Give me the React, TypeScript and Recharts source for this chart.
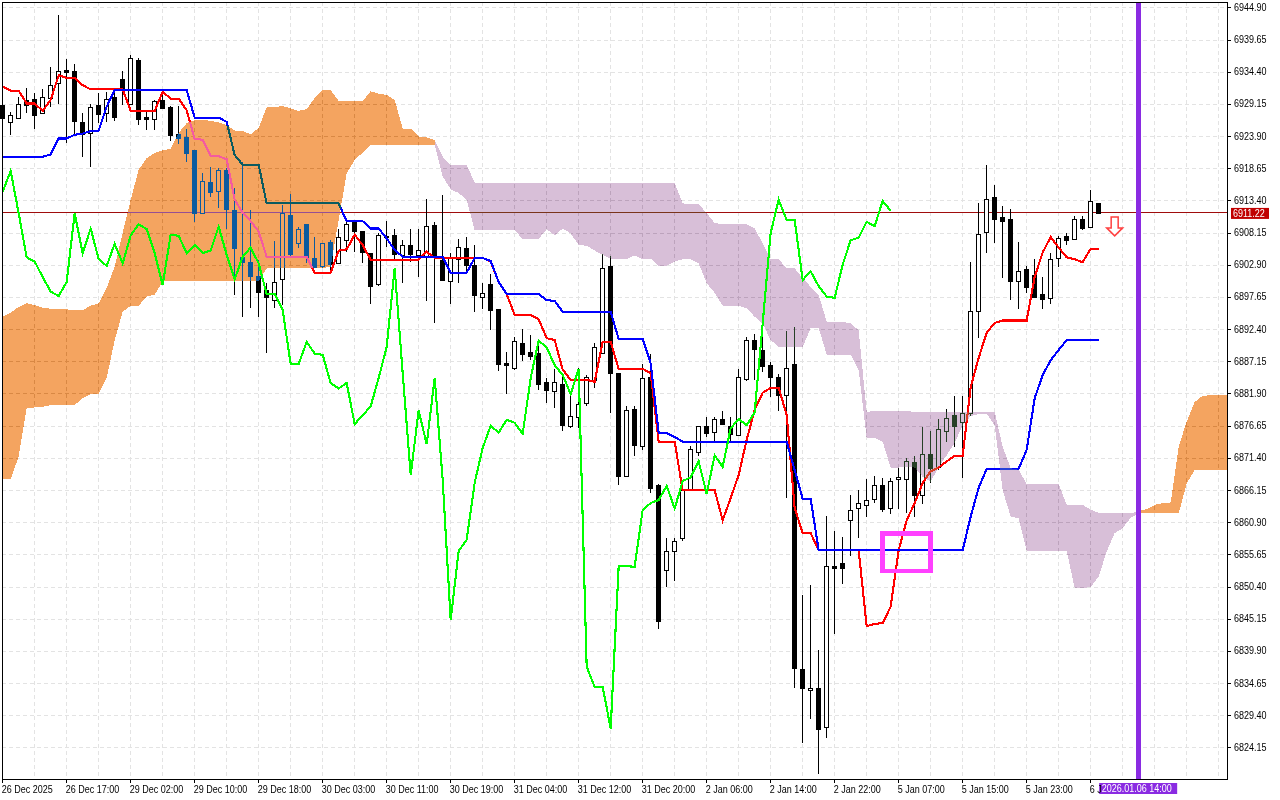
import React from 'react';
import {
  ComposedChart, Bar, Line, Area, XAxis, YAxis, CartesianGrid, ReferenceLine, ReferenceArea, ReferenceDot,
} from 'recharts';

const priceTicks = [
  6944.90, 6939.65, 6934.40, 6929.15, 6923.90, 6918.65, 6913.40, 6908.15, 6902.90, 6897.65, 6892.40, 6887.15,
  6881.90, 6876.65, 6871.40, 6866.15, 6860.90, 6855.65, 6850.40, 6845.15, 6839.90, 6834.65, 6829.40, 6824.15,
];

// one label every 8 bars, the last one runs under the cursor label
const timeLabels = [
  '26 Dec 2025', '26 Dec 17:00', '29 Dec 02:00', '29 Dec 10:00', '29 Dec 18:00', '30 Dec 03:00',
  '30 Dec 11:00', '30 Dec 19:00', '31 Dec 04:00', '31 Dec 12:00', '31 Dec 20:00', '2 Jan 06:00',
  '2 Jan 14:00', '2 Jan 22:00', '5 Jan 07:00', '5 Jan 15:00', '5 Jan 23:00', '6 J',
];

const opens = [
  6929.1, 6926.3, 6926.9, 6929.9, 6930.0, 6927.8, 6930.2, 6932.6, 6934.8, 6934.6,
  6926.3, 6924.5, 6929.1, 6927.7, 6930.3, 6933.3, 6929.3, 6936.4, 6927.1, 6926.8,
  6929.9, 6928.8, 6924.3, 6923.8, 6921.7, 6911.5, 6916.5, 6915.1, 6918.5, 6911.9,
  6904.3, 6903.4, 6901.2, 6898.9, 6897.3, 6900.6, 6911.1, 6906.5, 6909.6, 6904.1,
  6902.8, 6906.7, 6903.3, 6907.1, 6910.1, 6908.5, 6904.9, 6899.9, 6907.7, 6907.9,
  6904.6, 6906.2, 6904.6, 6904.3, 6909.5, 6903.8, 6900.3, 6903.9, 6905.7, 6903.0,
  6897.7, 6899.9, 6895.8, 6887.0, 6886.1, 6890.2, 6888.8, 6888.6, 6883.9, 6882.4,
  6883.5, 6876.7, 6878.1, 6880.4, 6884.2, 6888.6, 6902.8, 6885.3, 6868.5, 6879.5,
  6873.4, 6884.7, 6867.0, 6853.2, 6856.3, 6858.4, 6866.2, 6872.4, 6876.7, 6875.7,
  6877.8, 6876.7, 6875.2, 6884.3, 6890.7, 6889.1, 6886.6, 6884.7, 6881.7, 6886.8,
  6837.0, 6833.6, 6833.9, 6827.6, 6853.8, 6854.3, 6861.3, 6863.3, 6863.8, 6864.8,
  6867.0, 6863.3, 6868.0, 6868.0, 6870.8, 6865.4, 6872.1, 6870.0, 6875.9, 6878.5,
  6877.3, 6878.8, 6895.4, 6908.3, 6914.0, 6910.8, 6910.5, 6900.3, 6902.3, 6901.3,
  6898.2, 6897.6, 6904.1, 6907.7, 6907.2, 6910.5, 6909.2, 6913.1,
];
const closes = [
  6926.9, 6927.4, 6929.3, 6929.1, 6927.4, 6930.3, 6932.3, 6934.6, 6934.5, 6926.5,
  6924.4, 6928.8, 6927.6, 6930.0, 6927.1, 6931.5, 6936.7, 6926.8, 6926.8, 6929.7,
  6928.6, 6924.1, 6923.7, 6921.3, 6911.4, 6916.6, 6914.8, 6918.4, 6912.1, 6905.7,
  6903.5, 6901.2, 6898.6, 6897.8, 6900.1, 6911.4, 6904.7, 6908.9, 6904.3, 6902.7,
  6906.5, 6903.1, 6907.5, 6909.6, 6908.5, 6905.1, 6899.6, 6907.9, 6907.5, 6904.7,
  6906.2, 6904.7, 6905.4, 6909.3, 6904.3, 6900.5, 6904.1, 6905.9, 6903.0, 6898.1,
  6898.4, 6895.6, 6886.8, 6886.7, 6890.6, 6888.4, 6888.1, 6883.5, 6882.6, 6883.9,
  6876.8, 6878.3, 6880.3, 6884.7, 6889.6, 6902.5, 6885.3, 6868.5, 6879.3, 6873.6,
  6884.5, 6866.6, 6844.9, 6856.3, 6857.9, 6866.2, 6872.9, 6876.7, 6875.5, 6877.8,
  6877.0, 6875.4, 6884.7, 6890.7, 6889.2, 6886.5, 6884.7, 6881.7, 6886.1, 6837.2,
  6833.9, 6834.0, 6827.2, 6853.8, 6853.5, 6853.5, 6863.0, 6864.1, 6864.6, 6867.0,
  6863.1, 6867.7, 6868.4, 6871.0, 6865.4, 6872.1, 6869.8, 6876.2, 6878.0, 6876.7,
  6878.8, 6895.4, 6908.0, 6913.7, 6910.5, 6910.1, 6900.3, 6902.0, 6899.4, 6897.7,
  6897.4, 6903.9, 6907.4, 6907.0, 6910.5, 6909.0, 6913.4, 6911.4,
];
const highs = [
  6929.9, 6928.0, 6930.4, 6931.8, 6931.0, 6931.6, 6935.3, 6943.8, 6936.5, 6935.8,
  6927.7, 6929.3, 6931.0, 6931.2, 6931.0, 6934.6, 6937.2, 6936.7, 6928.0, 6929.9,
  6931.2, 6928.9, 6928.9, 6925.2, 6921.7, 6917.9, 6918.9, 6918.8, 6918.7, 6915.5,
  6919.8, 6911.9, 6903.8, 6900.0, 6906.9, 6912.7, 6914.6, 6909.2, 6909.6, 6907.5,
  6906.6, 6907.0, 6908.9, 6910.3, 6910.3, 6908.5, 6904.9, 6908.1, 6910.1, 6908.9,
  6907.1, 6908.9, 6908.9, 6913.7, 6910.0, 6914.4, 6904.9, 6907.2, 6907.5, 6906.2,
  6900.0, 6901.5, 6895.8, 6888.8, 6891.2, 6892.5, 6891.5, 6890.6, 6884.5, 6886.0,
  6884.7, 6881.7, 6886.1, 6885.0, 6890.2, 6904.7, 6904.4, 6885.3, 6879.9, 6879.9,
  6886.8, 6888.4, 6867.2, 6858.4, 6858.4, 6867.9, 6873.4, 6876.7, 6878.1, 6878.1,
  6879.1, 6878.1, 6886.0, 6891.2, 6891.7, 6891.4, 6887.1, 6885.2, 6892.2, 6892.8,
  6849.1, 6850.7, 6840.1, 6862.0, 6859.5, 6858.6, 6865.4, 6866.2, 6868.0, 6868.5,
  6868.2, 6868.2, 6869.8, 6871.5, 6871.8, 6876.5, 6875.9, 6877.8, 6879.5, 6881.6,
  6881.6, 6903.4, 6913.1, 6919.3, 6916.0, 6912.6, 6912.1, 6906.7, 6902.8, 6903.9,
  6901.0, 6904.9, 6907.7, 6908.2, 6911.0, 6911.0, 6915.2, 6913.1,
];
const lows = [
  6926.9, 6924.1, 6926.9, 6927.7, 6925.1, 6927.7, 6928.8, 6929.3, 6922.9, 6924.2,
  6920.5, 6919.0, 6926.2, 6926.3, 6926.5, 6929.1, 6929.2, 6925.8, 6925.0, 6925.0,
  6928.6, 6923.2, 6922.7, 6919.7, 6909.9, 6911.4, 6914.1, 6912.3, 6908.9, 6898.1,
  6894.5, 6895.9, 6894.5, 6888.6, 6895.9, 6896.4, 6904.4, 6905.7, 6903.2, 6902.7,
  6902.4, 6901.9, 6903.2, 6905.1, 6905.1, 6903.2, 6896.6, 6899.6, 6905.9, 6904.0,
  6900.0, 6903.5, 6901.0, 6897.1, 6893.5, 6900.3, 6896.6, 6900.0, 6901.5, 6895.3,
  6895.8, 6892.3, 6885.7, 6881.9, 6885.8, 6887.3, 6887.4, 6882.6, 6880.4, 6879.6,
  6875.9, 6876.4, 6876.4, 6879.9, 6882.9, 6888.6, 6878.8, 6867.0, 6868.5, 6871.8,
  6872.8, 6865.7, 6843.5, 6850.4, 6851.4, 6857.9, 6866.2, 6871.8, 6874.9, 6873.9,
  6877.0, 6873.9, 6875.2, 6884.0, 6884.2, 6885.5, 6881.4, 6879.1, 6864.9, 6833.9,
  6824.9, 6828.9, 6819.9, 6825.8, 6842.7, 6850.9, 6855.5, 6858.4, 6861.8, 6864.1,
  6862.6, 6862.3, 6863.1, 6862.5, 6861.8, 6863.9, 6867.4, 6869.5, 6874.1, 6873.2,
  6868.2, 6878.3, 6891.0, 6904.9, 6906.5, 6900.8, 6897.2, 6895.8, 6898.4, 6897.6,
  6895.8, 6896.6, 6902.6, 6906.2, 6907.2, 6908.7, 6909.2, 6911.4,
];

// [bar, price] at the bends of the two step-like lines
const tenkanPoints = [
  [0, 6932.1], [1, 6931.4], [2, 6931.4], [3, 6929.3], [4, 6929.3], [5, 6928.1], [6, 6929.9], [7, 6933.9], [8, 6933.5],
  [9, 6933.5], [10, 6932.3], [11, 6931.6], [15, 6931.6], [16, 6928.1], [19, 6928.1], [20, 6931.2], [21, 6930.1],
  [22, 6930.1], [23, 6928.2], [24, 6923.5], [25, 6923.4], [26, 6920.8], [27, 6920.7], [28, 6920.2], [29, 6913.6],
  [30, 6911.5], [31, 6910.1], [32, 6908.4], [33, 6904.3], [38, 6904.3], [39, 6901.7], [41, 6901.7], [42, 6905.3],
  [43, 6905.5], [44, 6907.9], [45, 6906.2], [46, 6903.8], [52, 6903.8], [53, 6905.1], [54, 6904.1], [60, 6904.1],
  [61, 6903.5], [62, 6900.2], [63, 6898.2], [64, 6894.8], [66, 6894.8], [67, 6894.1], [68, 6891.0], [69, 6890.7],
  [70, 6885.9], [71, 6884.2], [73, 6884.2], [74, 6883.9], [75, 6890.4], [76, 6890.4], [77, 6886.0], [80, 6886.0],
  [81, 6885.3], [82, 6874.1], [84, 6874.1], [85, 6866.2], [89, 6866.2], [90, 6861.3], [91, 6864.9], [92, 6868.7],
  [93, 6874.4], [94, 6879.3], [95, 6882.1], [96, 6882.9], [97, 6882.9], [98, 6878.5], [99, 6863.3], [100, 6859.2],
  [101, 6859.2], [102, 6856.4], [107, 6856.4], [108, 6844.0], [109, 6844.4], [110, 6844.5], [111, 6847.2],
  [112, 6856.4], [113, 6861.3], [114, 6864.1], [115, 6867.4], [116, 6869.3], [117, 6869.9], [118, 6870.9],
  [119, 6871.8], [120, 6871.8], [121, 6883.0], [122, 6887.8], [123, 6891.9], [124, 6893.5], [125, 6893.9],
  [128, 6893.9], [129, 6901.0], [130, 6905.0], [131, 6907.5], [132, 6905.8], [133, 6904.2], [134, 6903.9],
  [135, 6903.4], [136, 6905.6], [137, 6905.6],
];
const kijunPoints = [
  [0, 6920.6], [5, 6920.6], [6, 6921.0], [7, 6923.6], [8, 6923.6], [9, 6924.2], [10, 6924.4], [11, 6924.8],
  [12, 6924.9], [13, 6928.8], [14, 6931.5], [23, 6931.5], [24, 6927.0], [27, 6927.0], [28, 6926.3], [29, 6920.9],
  [30, 6919.3], [32, 6919.3], [33, 6913.0], [42, 6913.0], [43, 6910.1], [45, 6910.1], [46, 6908.9], [47, 6908.9],
  [48, 6907.3], [49, 6905.4], [50, 6904.3], [55, 6904.3], [56, 6901.7], [58, 6901.7], [59, 6904.1], [60, 6904.1],
  [61, 6903.6], [62, 6900.2], [63, 6898.2], [67, 6898.2], [68, 6897.2], [69, 6897.1], [70, 6895.3], [76, 6895.3],
  [77, 6890.9], [80, 6890.9], [81, 6886.9], [82, 6875.6], [83, 6875.5], [84, 6874.9], [85, 6874.1], [98, 6874.1],
  [99, 6869.5], [100, 6864.8], [101, 6864.8], [102, 6856.4], [120, 6856.4], [121, 6861.9], [122, 6866.6],
  [123, 6869.7], [127, 6869.7], [128, 6872.8], [129, 6881.2], [130, 6885.0], [131, 6887.4], [132, 6889.1],
  [133, 6890.7], [137, 6890.7],
];
const chikou = [
  6914.9, 6918.3, 6911.4, 6904.2, 6903.5, 6901.0, 6898.6, 6897.9, 6900.2, 6911.4,
  6904.9, 6908.9, 6903.9, 6902.8, 6906.4, 6903.2, 6907.8, 6909.6, 6908.8, 6904.9,
  6899.7, 6907.9, 6907.7, 6904.9, 6906.2, 6904.9, 6905.3, 6909.2, 6904.6, 6900.6,
  6904.3, 6905.8, 6903.2, 6898.2, 6898.2, 6895.6, 6886.8, 6886.8, 6890.4, 6888.5,
  6888.3, 6883.7, 6882.8, 6883.7, 6877.0, 6878.4, 6879.9, 6884.5, 6889.6, 6902.4,
  6885.3, 6868.7, 6879.2, 6873.7, 6884.5, 6867.9, 6845.0, 6856.3, 6858.1, 6867.4,
  6873.1, 6876.7, 6875.6, 6877.7, 6877.2, 6875.4, 6884.5, 6890.6, 6889.5, 6886.6,
  6885.0, 6881.9, 6886.0, 6837.4, 6834.1, 6834.1, 6827.3, 6853.8, 6853.8, 6853.7,
  6863.0, 6864.1, 6864.6, 6866.9, 6863.2, 6867.7, 6868.3, 6870.9, 6865.6, 6871.9,
  6870.0, 6876.3, 6877.8, 6876.8, 6878.9, 6893.4, 6908.2, 6913.6, 6910.3, 6910.3,
  6900.5, 6901.9, 6899.5, 6897.8, 6897.6, 6903.0, 6907.0, 6907.4, 6910.0, 6909.3,
  6913.4, 6911.8,
];
const cloudTop = [
  6894.5, 6895.2, 6896.1, 6896.7, 6896.4, 6896.0, 6895.8, 6895.8, 6895.7, 6895.6,
  6895.6, 6896.3, 6896.7, 6899.2, 6902.7, 6908.2, 6913.6, 6918.5, 6920.4, 6921.2,
  6921.7, 6921.9, 6924.5, 6926.1, 6926.6, 6926.6, 6926.5, 6926.2, 6925.8, 6924.9,
  6924.8, 6924.3, 6925.3, 6928.7, 6928.7, 6928.9, 6928.5, 6928.1, 6928.4, 6930.2,
  6931.5, 6931.5, 6929.7, 6929.7, 6929.7, 6929.7, 6931.3, 6930.9, 6930.7, 6929.9,
  6925.2, 6925.2, 6923.9, 6923.8, 6923.3, 6920.6, 6919.3, 6919.3, 6919.3, 6916.4,
  6916.3, 6916.3, 6916.3, 6916.3, 6916.3, 6916.3, 6916.3, 6916.3, 6916.3, 6916.3,
  6916.3, 6916.3, 6916.3, 6916.3, 6916.3, 6916.3, 6916.3, 6916.3, 6916.3, 6916.3,
  6916.3, 6916.3, 6916.3, 6916.3, 6916.3, 6913.0, 6912.9, 6912.9, 6911.4, 6909.8,
  6909.6, 6909.6, 6909.6, 6909.6, 6908.9, 6906.5, 6903.9, 6903.9, 6902.4, 6902.4,
  6900.8, 6899.4, 6898.1, 6893.7, 6893.7, 6893.7, 6893.4, 6892.3, 6879.0, 6879.1,
  6879.1, 6879.1, 6879.1, 6879.1, 6879.0, 6879.0, 6879.0, 6879.0, 6879.0, 6879.0,
  6879.0, 6879.0, 6879.0, 6879.0, 6879.0, 6873.3, 6869.8, 6869.5, 6867.2, 6867.2,
  6867.2, 6867.2, 6867.2, 6863.8, 6863.8, 6863.8, 6863.0, 6862.5, 6862.5, 6862.5,
  6862.5, 6862.4, 6862.8, 6863.1, 6863.8, 6864.1, 6864.2, 6873.3, 6877.4, 6880.6,
  6881.6, 6881.7, 6881.7, 6881.7,
];
const cloudBottom = [
  6868.0, 6868.0, 6871.7, 6879.6, 6879.7, 6879.8, 6880.1, 6880.1, 6880.1, 6880.1,
  6881.2, 6881.9, 6881.9, 6884.5, 6890.7, 6895.3, 6896.3, 6896.3, 6897.8, 6898.1,
  6900.3, 6900.3, 6900.3, 6900.3, 6900.3, 6900.3, 6900.3, 6900.3, 6900.3, 6900.3,
  6900.3, 6900.3, 6900.3, 6902.4, 6902.4, 6902.4, 6902.4, 6902.4, 6902.4, 6902.4,
  6902.4, 6902.7, 6910.3, 6917.9, 6920.1, 6921.3, 6922.5, 6922.5, 6922.5, 6922.5,
  6922.5, 6922.5, 6922.5, 6922.5, 6922.5, 6917.4, 6915.3, 6914.7, 6913.6, 6908.6,
  6908.6, 6908.6, 6908.6, 6908.6, 6908.6, 6907.2, 6907.2, 6907.2, 6908.8, 6907.8,
  6908.9, 6908.1, 6906.2, 6906.1, 6905.3, 6904.6, 6904.0, 6903.9, 6903.9, 6904.5,
  6903.9, 6904.0, 6902.8, 6902.8, 6903.5, 6903.9, 6903.9, 6903.2, 6900.0, 6898.4,
  6896.3, 6896.3, 6896.3, 6895.9, 6894.5, 6893.4, 6890.7, 6889.6, 6889.6, 6889.5,
  6889.5, 6892.7, 6892.7, 6888.3, 6888.3, 6888.3, 6888.3, 6885.8, 6874.7, 6874.7,
  6874.1, 6869.9, 6869.9, 6870.0, 6869.9, 6868.4, 6867.6, 6870.0, 6871.9, 6873.9,
  6876.8, 6878.3, 6878.6, 6878.7, 6876.8, 6866.2, 6861.9, 6861.6, 6856.3, 6856.3,
  6856.3, 6856.3, 6856.3, 6856.3, 6850.2, 6850.2, 6850.4, 6852.1, 6856.2, 6859.2,
  6860.0, 6861.7, 6862.4, 6862.4, 6862.4, 6862.4, 6862.4, 6862.4, 6867.3, 6869.5,
  6869.5, 6869.5, 6869.5, 6869.5,
];

const bidPrice = 6911.22;
const bidLineLevel = 6911.45; // where the line sits on the picture's scale
const cursorBar = 142;
const cursorLabel = '2026.01.06 14:00';
const boxBars = [110, 116];
const boxPrices = [6853.0, 6859.1];
const signalBar = 139;
const signalPrice = 6910.8;
const cloudFlipBars = [54, 142];

const tenkanByBar = new Map(tenkanPoints.map(([b, v]) => [b, v]));
const kijunByBar = new Map(kijunPoints.map(([b, v]) => [b, v]));

const rows = cloudTop.map((top, idx) => {
  const orange = idx <= cloudFlipBars[0] || idx >= cloudFlipBars[1];
  const purple = idx >= cloudFlipBars[0] && idx <= cloudFlipBars[1];
  return {
    idx,
    open: opens[idx] ?? null,
    high: highs[idx] ?? null,
    low: lows[idx] ?? null,
    close: closes[idx] ?? null,
    range: highs[idx] != null ? [lows[idx], highs[idx]] : null,
    tenkan: tenkanByBar.get(idx) ?? null,
    kijun: kijunByBar.get(idx) ?? null,
    chikou: chikou[idx] ?? null,
    orange: orange ? [cloudBottom[idx], top] : null,
    purple: purple ? [cloudBottom[idx], top] : null,
  };
});

const gridBars = cloudTop.map((_, i) => i).filter((i) => i % 4 === 0);
const timeTicks = timeLabels.map((_, n) => n * 8);
const FONT = '"Liberation Sans", Arial, sans-serif';
const FONT_SIZE = 10.6;
const SQUEEZE = 0.85; // the terminal font is narrower than anything installed

const Candle = (props: any) => {
  const { x, y, width, height, payload } = props;
  if (payload.open == null) return null;
  const k = height / (payload.high - payload.low || 1);
  const cx = Math.floor(x + width / 2) + 0.5;
  const toY = (p: number) => y + (payload.high - p) * k;
  const up = payload.close > payload.open;
  const top = Math.round(toY(Math.max(payload.open, payload.close))) + 0.5;
  const bottom = Math.round(toY(Math.min(payload.open, payload.close))) + 0.5;
  return (
    <g shapeRendering="crispEdges">
      <line x1={cx} x2={cx} y1={Math.round(y)} y2={Math.round(y + height)} stroke="#000" />
      <rect x={cx - 2} y={top} width={4} height={Math.max(bottom - top, 1)} fill={up ? '#fff' : '#000'} stroke="#000" />
    </g>
  );
};

const NarrowText = ({ x, y, fill = '#000', children }: any) => (
  <text
    transform={`translate(${x},${y}) scale(${SQUEEZE},1)`}
    fontFamily={FONT}
    fontSize={FONT_SIZE}
    fill={fill}
    textAnchor="start"
  >
    {children}
  </text>
);

const TimeTick = (props: any) => {
  const { x, y, payload } = props;
  return <NarrowText x={x - 1} y={y + 8}>{timeLabels[payload.value / 8]}</NarrowText>;
};

const PriceTick = (props: any) => {
  const { x, y, payload } = props;
  return <NarrowText x={x + 1} y={y + 3}>{payload.value.toFixed(2)}</NarrowText>;
};

const BidLabel = (props: any) => {
  const { viewBox } = props;
  const y = viewBox.y;
  return (
    <g>
      <rect x={viewBox.x + viewBox.width + 4} y={y - 5} width={38} height={11} fill="#c00000" />
      <NarrowText x={viewBox.x + viewBox.width + 6} y={y + 4} fill="#fff">{bidPrice.toFixed(2)}</NarrowText>
    </g>
  );
};

const CursorLabel = (props: any) => {
  const { viewBox } = props;
  return (
    <g>
      <rect x={viewBox.x - 39.5} y={viewBox.y + viewBox.height + 4} width={78} height={11} fill="#8a2be2" />
      <NarrowText x={viewBox.x - 37} y={viewBox.y + viewBox.height + 13} fill="#fff">{cursorLabel}</NarrowText>
    </g>
  );
};

const SignalArrow = (props: any) => {
  const { cx, cy } = props;
  const pts = [
    [-3.5, 0], [3.5, 0], [3.5, 11], [8, 11], [0, 19], [-8, 11], [-3.5, 11],
  ].map(([a, b]) => `${cx + a},${cy + b}`).join(' ');
  return <polygon points={pts} fill="#fff" stroke="#ff4040" strokeWidth={1.5} />;
};

const App: React.FC = () => (
  <div style={{ position: 'absolute', left: 0, top: 0, width: 1280, height: 800, background: '#fff' }}>
    <style>{`
      svg.recharts-surface { background: #fff; }
      .cloud-area .recharts-area-area, .cloud-area path { mix-blend-mode: difference; }
      .recharts-area-curve { display: none; }
      .recharts-line-curve, .recharts-area-area,
      .recharts-reference-line-line, .recharts-reference-area-rect,
      .recharts-cartesian-axis-line, .recharts-cartesian-axis-tick-line,
      .recharts-cartesian-grid line { shape-rendering: crispEdges; }
    `}</style>
    <ComposedChart
      width={1280}
      height={800}
      data={rows}
      margin={{ top: 2, right: 0, bottom: 0, left: 2 }}
    >
      <XAxis
        dataKey="idx"
        type="number"
        domain={[-0.084, 153.041]}
        ticks={timeTicks}
        interval={0}
        height={21}
        tickSize={4}
        tickLine={{ stroke: '#000' }}
        axisLine={{ stroke: '#000' }}
        tick={<TimeTick />}
        zIndex={5}
      />
      <YAxis
        orientation="right"
        type="number"
        domain={[6819.07, 6945.87]}
        ticks={priceTicks}
        interval={0}
        width={53}
        tickSize={4}
        tickLine={{ stroke: '#000' }}
        axisLine={{ stroke: '#000' }}
        tick={<PriceTick />}
      />
      <CartesianGrid
        stroke="#e3e3e3"
        strokeDasharray="4 3"
        verticalValues={gridBars}
        horizontalValues={priceTicks}
        zIndex={-10}
      />
      <ReferenceLine y={bidLineLevel} stroke="#a00c0c" strokeWidth={1} label={<BidLabel />} zIndex={10} />
      <Bar dataKey="range" shape={<Candle />} barSize={7} isAnimationActive={false} zIndex={20} />
      <Line dataKey="tenkan" stroke="#ff0000" strokeWidth={2.1} dot={false} connectNulls isAnimationActive={false} zIndex={30} />
      <Line dataKey="kijun" stroke="#0000ff" strokeWidth={2.1} dot={false} connectNulls isAnimationActive={false} zIndex={31} />
      <Area className="cloud-area" dataKey="orange" fill="#0b5b9f" fillOpacity={1} stroke="none" isAnimationActive={false} zIndex={40} />
      <Area className="cloud-area" dataKey="purple" fill="#274027" fillOpacity={1} stroke="none" isAnimationActive={false} zIndex={41} />
      <Line dataKey="chikou" stroke="#00ff00" strokeWidth={2.1} dot={false} isAnimationActive={false} zIndex={50} />
      <ReferenceArea
        x1={boxBars[0]}
        x2={boxBars[1]}
        y1={boxPrices[0]}
        y2={boxPrices[1]}
        fill="none"
        stroke="#ff40ff"
        strokeWidth={4.5}
        zIndex={60}
      />
      <ReferenceDot x={signalBar} y={signalPrice} shape={<SignalArrow />} zIndex={65} />
      <ReferenceLine x={cursorBar} stroke="#8a2be2" strokeWidth={5} label={<CursorLabel />} zIndex={70} />
      <ReferenceArea x1={-0.084} x2={153.041} y1={6819.07} y2={6945.87} fill="none" stroke="#000" strokeWidth={1} zIndex={75} />
    </ComposedChart>
  </div>
);

export default App;
